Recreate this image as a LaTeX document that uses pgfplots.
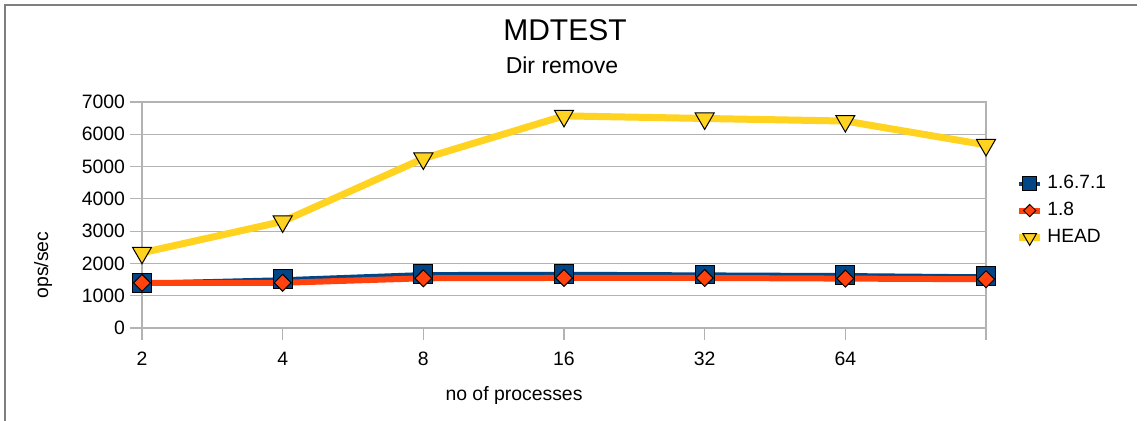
\documentclass[border=0pt]{standalone}
\usepackage{pgfplots}
\pgfplotsset{compat=1.18}
\usepackage{fontspec}
\setmainfont{Liberation Sans}
\definecolor{loblue}{HTML}{004586}
\definecolor{lored}{HTML}{FF420E}
\definecolor{loyellow}{HTML}{FFD320}
\definecolor{gridgray}{HTML}{B3B3B3}
\definecolor{framegray}{HTML}{7F7F7F}
\begin{document}
\begin{tikzpicture}
\path[use as bounding box] (0pt,0pt) rectangle (573pt,-210.5pt);
\draw[framegray, line width=1pt] (2.5pt,-210.5pt) -- (2.5pt,-2.5pt) -- (568.5pt,-2.5pt);
\node[anchor=base, font=\fontsize{15}{18}\selectfont] at (282.5pt,-20.5pt) {MDTEST};
\node[anchor=base, font=\fontsize{11.5}{13}\selectfont] at (281pt,-37pt) {Dir remove};
\node[rotate=90, font=\fontsize{9.7}{11}\selectfont] at (21.5pt,-132.5pt) {ops/sec};
\node[anchor=base, font=\fontsize{9.7}{11}\selectfont] at (257pt,-200.5pt) {no of processes};
\begin{axis}[
  at={(71pt,-164pt)}, anchor=south west,
  scale only axis, width=422pt, height=113pt,
  xmin=0, xmax=6, ymin=0, ymax=7000,
  xtick={0,1,2,3,4,5,6},
  xticklabels={2,4,8,16,32,64,{}},
  ytick={0,1000,2000,3000,4000,5000,6000,7000},
  ymajorgrids,
  grid style={gridgray, line width=0.6pt},
  axis line style={gridgray, line width=0.6pt},
  tick style={gridgray, line width=0.6pt},
  tick align=outside, tick pos=left,
  major tick length=6pt,
  /pgf/number format/assume math mode=true,
  /pgf/number format/1000 sep={},
  ticklabel style={font=\fontsize{9.7}{11}\selectfont, text=black},
  xticklabel style={yshift=-2.5pt},
  yticklabel style={xshift=1pt},
  clip=false,
  legend style={at={(1.035,0.52)}, anchor=west, draw=none, fill=none,
    font=\fontsize{9.6}{11}\selectfont, row sep=1.3pt,
    inner sep=0pt},
  legend cell align=left,
  legend image code/.code={
    \draw[#1, every mark/.append style={scale=0.72}, mark repeat=2, mark phase=2] plot coordinates {(0cm,0cm) (0.18cm,0cm) (0.36cm,0cm)};
  },
]
\addplot[loblue, line width=2pt, mark=square*, mark size=4.7pt,
  mark options={fill=loblue, draw=black, line width=0.5pt}]
  coordinates {(0,1400) (1,1510) (2,1670) (3,1680) (4,1660) (5,1640) (6,1600)};
\addlegendentry{1.6.7.1}
\addplot[lored, line width=3pt, mark=square*, mark size=3pt,
  mark options={fill=lored, draw=black, line width=0.5pt, rotate=45}]
  coordinates {(0,1400) (1,1400) (2,1540) (3,1550) (4,1550) (5,1530) (6,1510)};
\addlegendentry{1.8}
\addplot[loyellow, line width=3.5pt, mark=triangle*, mark size=5.5pt,
  mark options={fill=loyellow, draw=black, line width=0.5pt, rotate=180}]
  coordinates {(0,2330) (1,3300) (2,5250) (3,6570) (4,6490) (5,6410) (6,5670)};
\addlegendentry{HEAD}
\end{axis}
\end{tikzpicture}
\end{document}
